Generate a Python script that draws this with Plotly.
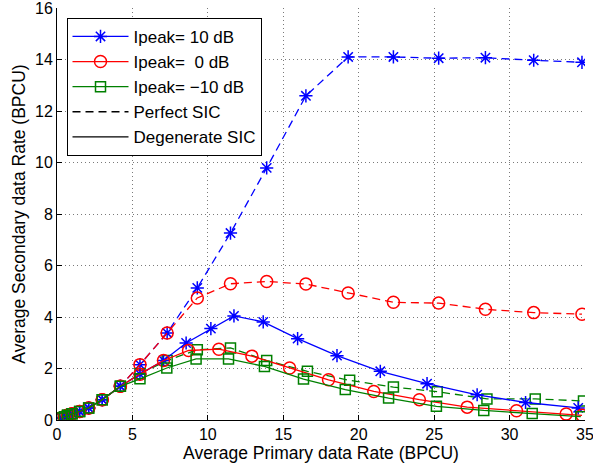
import plotly.graph_objects as go

# ---------------- data ----------------
low_x = [0.3, 0.5, 0.7, 1.0, 1.5, 2.1, 3.0, 4.2]
low_y = [0.08, 0.13, 0.18, 0.24, 0.33, 0.47, 0.79, 1.31]

# Perfect SIC (dashed)
perf_x = low_x + [5.5, 7.3, 9.3, 11.5, 13.9, 16.5, 19.3, 22.3, 25.3, 28.4, 31.6, 34.8]
perf_10 = low_y + [2.15, 3.38, 5.13, 7.26, 9.79, 12.59, 14.10, 14.10, 14.05, 14.07, 13.97, 13.89]
perf_0 = low_y + [2.15, 3.38, 4.74, 5.29, 5.38, 5.28, 4.93, 4.57, 4.54, 4.30, 4.17, 4.11]
perf_m10_x = low_x + [5.5, 7.3, 9.3, 11.5, 13.9, 16.6, 19.4, 22.3, 25.2, 28.5, 31.7, 34.9]
perf_m10 = low_y + [1.80, 2.31, 2.73, 2.80, 2.31, 1.89, 1.54, 1.28, 1.10, 0.82, 0.82, 0.74]

# Degenerate SIC (solid)
deg10_x = low_x + [5.5, 7.06, 8.56, 10.2, 11.73, 13.67, 15.95, 18.56, 21.43, 24.53, 27.85, 31.06, 34.55]
deg_10 = low_y + [1.78, 2.31, 2.99, 3.55, 4.04, 3.81, 3.16, 2.50, 1.89, 1.41, 0.98, 0.68, 0.47]
deg0_x = low_x + [5.5, 7.06, 8.72, 10.73, 12.92, 15.42, 18.0, 21.0, 24.02, 27.19, 30.46, 33.75, 34.8]
deg_0 = low_y + [1.78, 2.31, 2.70, 2.75, 2.48, 2.02, 1.56, 1.11, 0.79, 0.50, 0.36, 0.23, 0.18]
degm10_x = low_x + [5.5, 7.28, 9.22, 11.37, 13.75, 16.34, 19.11, 21.98, 25.15, 28.29, 31.5, 34.72]
deg_m10 = low_y + [1.60, 2.02, 2.37, 2.37, 2.08, 1.59, 1.18, 0.85, 0.53, 0.37, 0.25, 0.13]

legend_labels = ["Ipeak= 10 dB", "Ipeak=  0 dB", "Ipeak= \u221210 dB", "Perfect SIC", "Degenerate SIC"]
x_ticks = [0, 5, 10, 15, 20, 25, 30, 35]
y_ticks = [0, 2, 4, 6, 8, 10, 12, 14, 16]

# ---------------- styles ----------------
BLUE, RED, GREEN = "#0000ff", "#ff0000", "#008000"
DASH = "8px,5px"
LW = 1.3
MLW = 1.5
styles = [
    (BLUE, "asterisk-open", 11),
    (RED, "circle-open", 12),
    (GREEN, "square-open", 10),
]

fig = go.Figure()

series = [
    (perf_x, perf_10, deg10_x, deg_10),
    (perf_x, perf_0, deg0_x, deg_0),
    (perf_m10_x, perf_m10, degm10_x, deg_m10),
]

for (px, py, dx, dy), (col, sym, sz) in zip(series, styles):
    marker = dict(symbol=sym, size=sz, color=col, line=dict(color=col, width=MLW))
    fig.add_trace(go.Scatter(x=px, y=py, mode="lines+markers", showlegend=False,
                             line=dict(color=col, width=LW, dash=DASH), marker=marker))
for (px, py, dx, dy), (col, sym, sz) in zip(series, styles):
    marker = dict(symbol=sym, size=sz, color=col, line=dict(color=col, width=MLW))
    fig.add_trace(go.Scatter(x=dx, y=dy, mode="lines+markers", showlegend=False,
                             line=dict(color=col, width=LW), marker=marker))

# legend entries
for i, (col, sym, sz) in enumerate(styles):
    fig.add_trace(go.Scatter(x=[None], y=[None], mode="lines+markers", name=legend_labels[i],
                             legendgroup=f"g{i}",
                             line=dict(color=col, width=LW),
                             marker=dict(symbol=sym, size=sz, color=col, line=dict(color=col, width=MLW))))
fig.add_trace(go.Scatter(x=[None], y=[None], mode="lines", name=legend_labels[3], legendgroup="g3",
                         line=dict(color="black", width=LW, dash=DASH)))
fig.add_trace(go.Scatter(x=[None], y=[None], mode="lines", name=legend_labels[4], legendgroup="g4",
                         line=dict(color="black", width=LW)))

FONT = "Liberation Sans, Arial, Helvetica, sans-serif"
axis_common = dict(
    showgrid=True, gridcolor="#7a7a7a", griddash="1px,3px", gridwidth=1,
    showline=True, linecolor="black", linewidth=1,
    ticks="inside", ticklen=5, tickcolor="black",
    zeroline=False, tickfont=dict(size=16, color="black", family=FONT),
    automargin=False, ticklabeloverflow="allow",
)

fig.update_layout(
    width=593, height=469,
    margin=dict(l=57, r=8, t=8, b=49),
    paper_bgcolor="white", plot_bgcolor="white",
    font=dict(family=FONT, color="black"),
    xaxis=dict(range=[0, 35], tickvals=x_ticks,
               title=dict(text="Average Primary data Rate (BPCU)", font=dict(size=17.5), standoff=4),
               **axis_common),
    yaxis=dict(range=[0, 16], tickvals=y_ticks,
               title=dict(text="Average Secondary data Rate (BPCU)", font=dict(size=17.5), standoff=4),
               **axis_common),
    legend=dict(x=0.018, y=0.976, xanchor="left", yanchor="top",
                bgcolor="white", bordercolor="black", borderwidth=1,
                font=dict(size=17, family=FONT), itemwidth=56,
                traceorder="grouped", tracegroupgap=0),
    showlegend=True,
)

fig.write_html("out.html", config={"displayModeBar": False},
               post_script="document.body.style.margin='0px';")
